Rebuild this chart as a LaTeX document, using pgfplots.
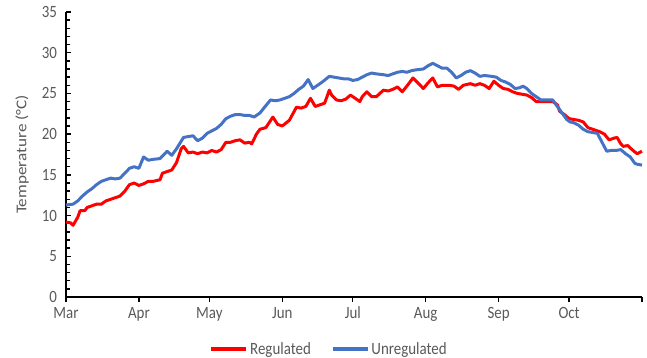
\documentclass[border=0pt]{standalone}
\usepackage{pgfplots}
\pgfplotsset{compat=1.18}
\usepackage{fontspec}
\setmainfont{Carlito}
\usetikzlibrary{calc}

\definecolor{regred}{RGB}{255,0,0}
\definecolor{unregblue}{RGB}{68,114,196}
\definecolor{labelgray}{RGB}{89,89,89}

% day of season (0 = 1 March), daily mean water temperature
\pgfplotstableread{
day temp
0 9.2
2 9.1
3 8.8
5 9.8
6 10.6
8 10.6
9 11.0
11 11.2
13 11.4
15 11.4
17 11.8
19 12.0
21 12.2
23 12.4
25 13.0
27 13.8
29 14.0
31 13.7
33 13.9
35 14.2
37 14.2
40 14.4
41 15.2
43 15.4
45 15.6
47 16.5
49 18.2
50 18.5
52 17.7
54 17.8
56 17.6
58 17.8
60 17.7
62 18.0
64 17.8
66 18.1
68 19.0
70 19.0
72 19.2
74 19.3
76 18.9
78 19.0
79 18.8
81 20.0
82.5 20.6
85 20.8
88 22.1
90 21.2
92 21.0
95 21.7
98 23.3
100 23.2
102 23.4
104 24.4
106 23.4
108 23.6
110 23.8
112 25.4
113 24.8
115 24.2
117 24.1
119 24.3
121 24.8
123 24.4
125 24.0
126 24.6
128 25.2
130 24.6
132 24.6
135 25.4
137 25.3
139 25.5
141 25.8
143 25.2
145 25.9
147.6 26.9
149 26.5
152 25.6
154 26.3
156 26.9
158 25.8
160 26.0
163 26.0
165 25.9
167 25.5
169 26.0
172 26.2
174 26.0
176 26.2
178 26.0
180 25.6
182 26.5
184 26.0
186 25.6
188 25.5
190 25.2
192 25.0
194 24.9
196 24.8
198 24.5
200 24.0
203 24.0
207 24.0
209 23.6
210 22.8
212 22.4
214 21.9
216 21.8
218 21.7
220 21.5
222 20.8
225 20.5
227 20.3
229 20.0
231 19.3
233 19.5
234.4 19.6
236 18.8
237 18.5
239 18.6
240 18.3
242 17.8
243 17.6
245 17.9
}\regulated

\pgfplotstableread{
day temp
0 11.3
3 11.4
5 11.8
7 12.4
9 12.9
11 13.3
13 13.8
15 14.2
17 14.4
19 14.6
21 14.5
23 14.6
25 15.2
27 15.8
29 16.0
31 15.8
33 17.2
35 16.8
37 16.9
40 17.0
43 17.9
45 17.4
47 18.2
50 19.6
52 19.7
54 19.8
56 19.2
58 19.5
60 20.1
62 20.4
64 20.7
66 21.2
68 21.9
70 22.2
72 22.4
74 22.4
76 22.3
78 22.3
80 22.1
82.5 22.6
85 23.5
87 24.2
89 24.1
91 24.2
93 24.4
95 24.6
97 25.0
99 25.5
101 25.9
103 26.7
105 25.6
107 26.0
109 26.4
112 27.1
114 27.0
116 26.9
118 26.8
120 26.8
122 26.6
124 26.7
126 27.0
128 27.3
130 27.5
132 27.4
135 27.3
137 27.2
139 27.4
141 27.6
143 27.7
145 27.6
147 27.8
149 27.9
152 28.0
154 28.4
156 28.7
158 28.4
160 28.1
162 28.1
164 27.6
166 26.9
168 27.2
170 27.6
172 27.8
174 27.5
176 27.1
178 27.2
181 27.1
183 27.0
185 26.6
187 26.4
189 26.1
191 25.6
193 25.7
194.4 25.9
196 25.6
198 25.0
200 24.6
202 24.2
205 24.2
207 24.2
209 23.4
211 22.6
213 21.8
214.4 21.5
216 21.4
218 21.1
220 20.6
222 20.3
224 20.2
226 20.1
228 19.0
230 17.9
232 18.0
234 18.0
236 18.1
238 17.6
240 17.2
242 16.4
243 16.3
245 16.2
}\unregulated

\newcommand{\chartfont}{\fontsize{15}{18}\selectfont}

\begin{document}
\begin{tikzpicture}
\begin{axis}[
  scale only axis,
  width=576bp, height=285bp,
  xmin=0, xmax=245,
  ymin=0, ymax=35,
  axis lines=left,
  axis line style={-, black, line width=1.8pt},
  xtick={0,31,61,92,122,153,184,214,245},
  xticklabels={Mar,Apr,May,Jun,Jul,Aug,Sep,Oct,},
  ytick={0,5,...,35},
  minor y tick num=4,
  tick style={black, line width=1.3pt},
  major tick length=5bp,
  minor tick length=4bp,
  x tick style={/pgfplots/tick align=outside},
  y tick style={/pgfplots/tick align=inside},
  ticklabel style={font=\chartfont, text=labelgray, yscale=1.15, transform shape},
  xticklabel style={yshift=-3bp},
  yticklabel style={xshift=-3bp},
  /pgf/number format/assume math mode=true,
  ylabel={\scalebox{1.15}[1]{Temperature (°C)}},
  ylabel style={font=\chartfont, text=labelgray,
                at={(axis description cs:-0.076,0.5)}, anchor=center},
  legend columns=2,
  legend style={draw=none, fill=none, font=\chartfont,
                text=labelgray, at={(axis description cs:0.457,-0.182)},
                anchor=center, inner xsep=1bp,
                /tikz/every even column/.append style={column sep=18bp}},
  legend image code/.code={\draw[#1, line width=3.5pt] (0bp,0bp) -- (35bp,0bp);},
  clip=false,
]
\addplot[regred, line width=3pt, line join=round] table[x=day, y=temp] {\regulated};
\addlegendentry{\scalebox{1}[1.15]{Regulated}}
\addplot[unregblue, line width=3pt, line join=round] table[x=day, y=temp] {\unregulated};
\addlegendentry{\scalebox{1}[1.15]{Unregulated}}
\end{axis}
\pgfresetboundingbox
\path[use as bounding box] ($(current axis.south west)+(-66bp,-61bp)$) rectangle ($(current axis.north east)+(5bp,12bp)$);
\end{tikzpicture}
\end{document}
